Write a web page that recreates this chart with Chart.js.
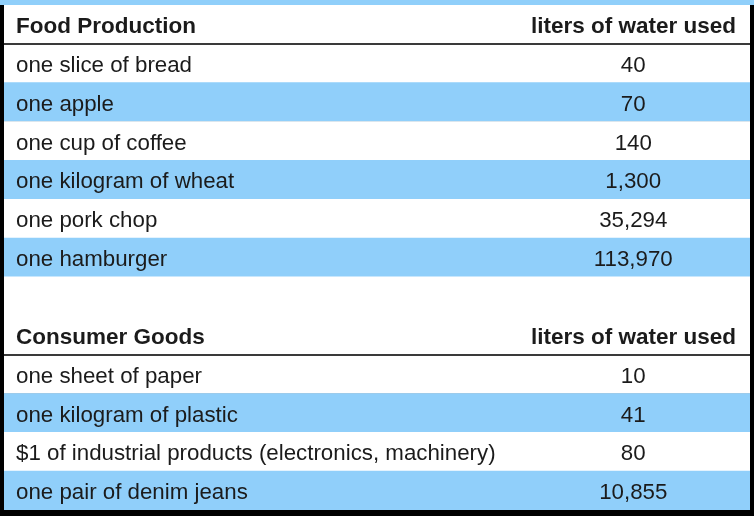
<!DOCTYPE html>
<html>
<head>
<meta charset="utf-8">
<script src="https://cdn.jsdelivr.net/npm/chart.js@4.4.1/dist/chart.umd.min.js"></script>
<style>
  html, body { margin: 0; padding: 0; background: #000; }
  #wrap { width: 754px; height: 516px; }
</style>
</head>
<body>
<div id="wrap"><canvas id="c" width="754" height="516"></canvas></div>
<script>
// ---- data ----
const sectionHeaders = ['Food Production', 'Consumer Goods'];
const valueHeader = 'liters of water used';
const foodItems = ['one slice of bread', 'one apple', 'one cup of coffee', 'one kilogram of wheat', 'one pork chop', 'one hamburger'];
const foodLiters = [40, 70, 140, 1300, 35294, 113970];
const goodsItems = ['one sheet of paper', 'one kilogram of plastic', '$1 of industrial products (electronics, machinery)', 'one pair of denim jeans'];
const goodsLiters = [10, 41, 80, 10855];

// ---- build rows ----
const BLUE = '#90cffa';
const rows = [];
rows.push({ label: sectionHeaders[0], value: valueHeader, kind: 'header' });
foodItems.forEach((t, i) => rows.push({ label: t, value: foodLiters[i].toLocaleString('en-US'), kind: 'row', blue: i % 2 === 1 }));
rows.push({ label: '', value: '', kind: 'gap' });
rows.push({ label: sectionHeaders[1], value: valueHeader, kind: 'header' });
goodsItems.forEach((t, i) => rows.push({ label: t, value: goodsLiters[i].toLocaleString('en-US'), kind: 'row', blue: i % 2 === 1 }));

const labels = rows.map(r => r.label);
const cellFill = rows.map(r => r.blue ? BLUE : '#ffffff');

const FONT = '"Liberation Sans", Arial, Helvetica, sans-serif';
const TEXT = '#1b1b1b';
const BODY_SIZE = 22.3;
const HEAD_SIZE = 22.5;
const VALUE_COL_X = 0.8435;
const TEXT_DY = 2.5;

const framePlugin = {
  id: 'frame',
  beforeDraw(chart) {
    const { ctx, width, height } = chart;
    ctx.save();
    ctx.fillStyle = '#000';
    ctx.fillRect(0, 0, width, height);
    ctx.fillStyle = BLUE;
    ctx.fillRect(0, 0, width, chart.chartArea.top);
    ctx.restore();
  },
  afterDatasetsDraw(chart) {
    const { ctx, chartArea } = chart;
    const y = chart.scales.y, x = chart.scales.x;
    const half = (y.getPixelForValue(1) - y.getPixelForValue(0)) / 2;
    ctx.save();
    ctx.textBaseline = 'middle';
    rows.forEach((r, i) => {
      const py = y.getPixelForValue(i);
      const head = r.kind === 'header';
      if (head) {
        ctx.strokeStyle = '#3a3a3a';
        ctx.lineWidth = 2;
        ctx.beginPath();
        ctx.moveTo(chartArea.left, Math.round(py + half));
        ctx.lineTo(chartArea.right, Math.round(py + half));
        ctx.stroke();
      }
      ctx.fillStyle = TEXT;
      ctx.font = (head ? 'bold ' + HEAD_SIZE : BODY_SIZE) + 'px ' + FONT;
      const lab = y.getLabelForValue(i);
      if (lab) {
        ctx.textAlign = 'left';
        ctx.fillText(lab, chartArea.left + 12, py + TEXT_DY);
      }
      if (r.value !== '') {
        if (head) {
          ctx.textAlign = 'right';
          ctx.fillText(r.value, chartArea.right - 14, py + TEXT_DY);
        } else {
          ctx.textAlign = 'center';
          ctx.fillText(r.value, x.getPixelForValue(VALUE_COL_X), py + TEXT_DY);
        }
      }
    });
    ctx.restore();
  }
};

new Chart(document.getElementById('c'), {
  type: 'bar',
  data: {
    labels,
    datasets: [{
      data: rows.map(() => 1),
      backgroundColor: cellFill,
      borderWidth: 0,
      barPercentage: 1,
      categoryPercentage: 1
    }]
  },
  options: {
    indexAxis: 'y',
    responsive: false,
    animation: false,
    devicePixelRatio: 1,
    layout: { padding: { top: 5, bottom: 6, left: 4, right: 4 } },
    plugins: { legend: { display: false }, tooltip: { enabled: false } },
    scales: {
      x: { min: 0, max: 1, display: false },
      y: { display: false }
    }
  },
  plugins: [framePlugin]
});
</script>
</body>
</html>
